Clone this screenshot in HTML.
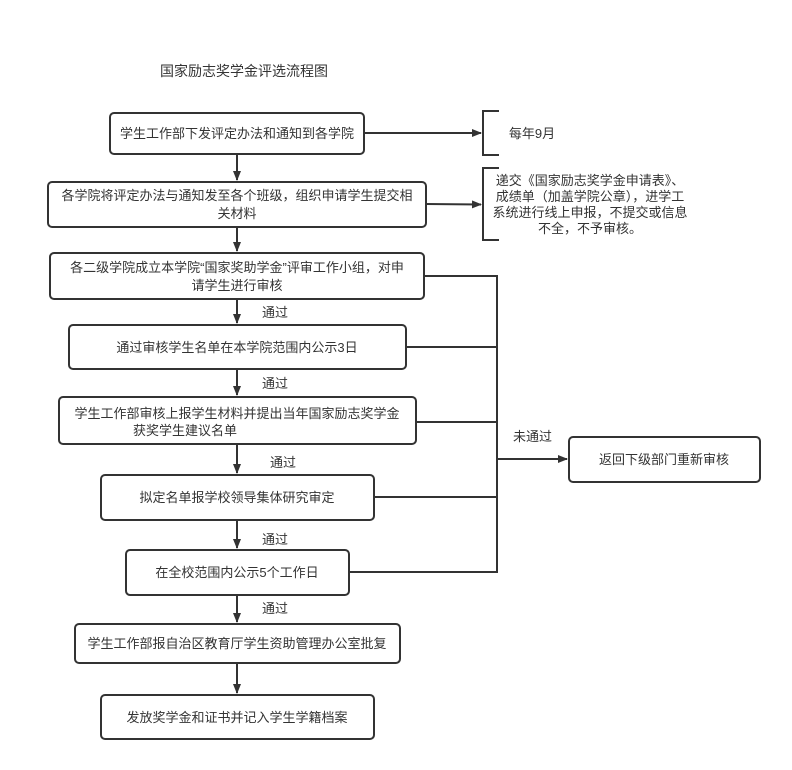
<!DOCTYPE html>
<html><head><meta charset="utf-8"><style>
html,body{margin:0;padding:0;background:#fff;}
svg{display:block;}
text{font-family:"Liberation Sans","Noto Sans CJK SC",sans-serif;font-size:13px;fill:#333;}
</style></head><body>
<svg width="792" height="770" viewBox="0 0 792 770" xmlns="http://www.w3.org/2000/svg">
<defs><marker id="a" markerWidth="10" markerHeight="8" refX="9" refY="4" orient="auto" markerUnits="userSpaceOnUse"><path d="M0,0 L10,4 L0,8 Z" fill="#333"/></marker></defs>
<text x="160" y="76" style="font-size:14px">国家励志奖学金评选流程图</text>
<g fill="none" stroke="#333" stroke-width="2">
<rect x="110" y="113" width="254" height="41" rx="4"/>
<rect x="48" y="182" width="378" height="45" rx="4"/>
<rect x="50" y="253" width="374" height="46" rx="4"/>
<rect x="69" y="325" width="337" height="44" rx="4"/>
<rect x="59" y="397" width="357" height="47" rx="4"/>
<rect x="101" y="475" width="273" height="45" rx="4"/>
<rect x="126" y="550" width="223" height="45" rx="4"/>
<rect x="75" y="624" width="325" height="39" rx="4"/>
<rect x="101" y="695" width="273" height="44" rx="4"/>
<rect x="569" y="437" width="191" height="45" rx="4"/>
<path d="M499,111 H483 V155 H499"/>
<path d="M499,168 H483 V240 H499"/>
<line x1="364" y1="133" x2="481" y2="133" marker-end="url(#a)"/>
<line x1="426" y1="204" x2="481" y2="204.5" marker-end="url(#a)"/>
<line x1="237" y1="154" x2="237" y2="180" marker-end="url(#a)"/>
<line x1="237" y1="227" x2="237" y2="251" marker-end="url(#a)"/>
<line x1="237" y1="299" x2="237" y2="323" marker-end="url(#a)"/>
<line x1="237" y1="369" x2="237" y2="395" marker-end="url(#a)"/>
<line x1="237" y1="444" x2="237" y2="473" marker-end="url(#a)"/>
<line x1="237" y1="520" x2="237" y2="548" marker-end="url(#a)"/>
<line x1="237" y1="595" x2="237" y2="622" marker-end="url(#a)"/>
<line x1="237" y1="663" x2="237" y2="693" marker-end="url(#a)"/>
<path d="M424,276 H497 V572 H349"/>
<line x1="406" y1="347" x2="497" y2="347"/>
<line x1="416" y1="422" x2="497" y2="422"/>
<line x1="374" y1="497" x2="497" y2="497"/>
<line x1="497" y1="459" x2="567" y2="459" marker-end="url(#a)"/>
</g>
<g text-anchor="middle">
<text x="237" y="138">学生工作部下发评定办法和通知到各学院</text>
<text x="237" y="200">各学院将评定办法与通知发至各个班级，组织申请学生提交相</text>
<text x="237" y="218">关材料</text>
<text x="237" y="272">各二级学院成立本学院“国家奖助学金”评审工作小组，对申</text>
<text x="237" y="290">请学生进行审核</text>
<text x="237" y="352">通过审核学生名单在本学院范围内公示3日</text>
<text x="237" y="418">学生工作部审核上报学生材料并提出当年国家励志奖学金</text>
<text x="185" y="435">获奖学生建议名单</text>
<text x="237" y="502">拟定名单报学校领导集体研究审定</text>
<text x="237" y="577">在全校范围内公示5个工作日</text>
<text x="237" y="648">学生工作部报自治区教育厅学生资助管理办公室批复</text>
<text x="237" y="722">发放奖学金和证书并记入学生学籍档案</text>
<text x="664" y="464">返回下级部门重新审核</text>
<text x="532" y="138">每年9月</text>
<text x="590" y="185">递交《国家励志奖学金申请表》、</text>
<text x="590" y="201">成绩单（加盖学院公章），进学工</text>
<text x="590" y="217">系统进行线上申报，不提交或信息</text>
<text x="590" y="233">不全，不予审核。</text>
</g>
<text x="262" y="317">通过</text>
<text x="262" y="388">通过</text>
<text x="270" y="467">通过</text>
<text x="262" y="544">通过</text>
<text x="262" y="613">通过</text>
<text x="513" y="441">未通过</text>
</svg>
</body></html>
